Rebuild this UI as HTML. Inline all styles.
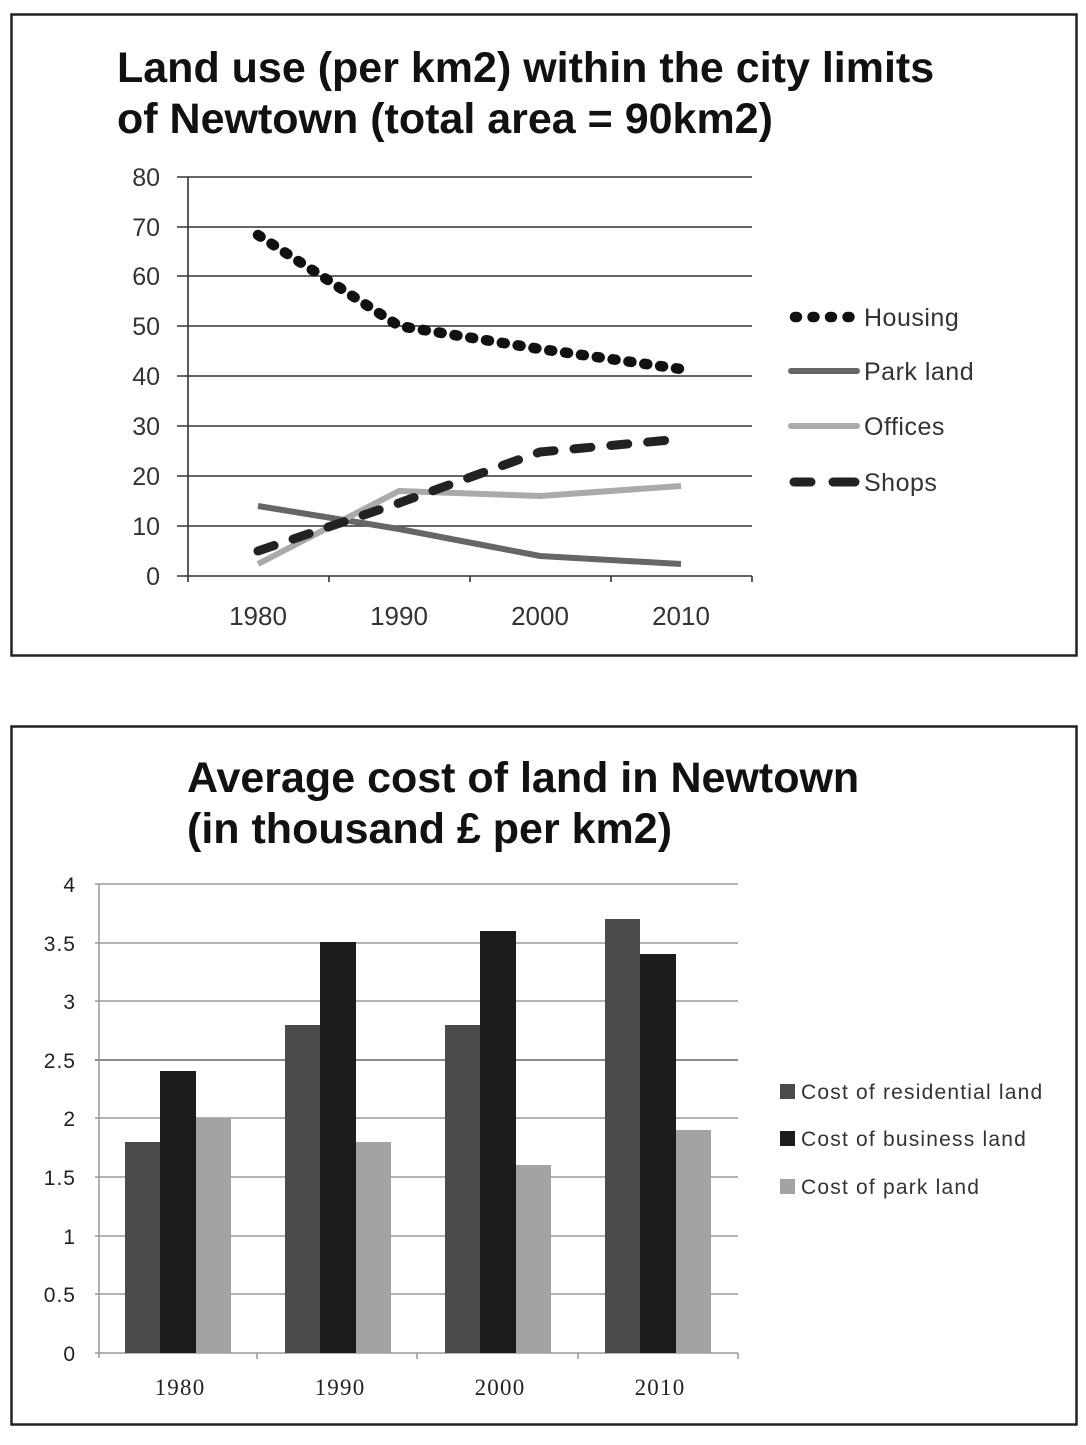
<!DOCTYPE html>
<html>
<head>
<meta charset="utf-8">
<style>
html,body{margin:0;padding:0;background:#fff;}
body{width:1086px;height:1445px;overflow:hidden;}
svg{display:block;}
.t{font-family:"Liberation Sans",Arial,sans-serif;font-weight:bold;font-size:43px;fill:#111;}
.yl{font-family:"Liberation Sans",Arial,sans-serif;font-size:25px;fill:#333;}
.xl{font-family:"Liberation Sans",Arial,sans-serif;font-size:26px;fill:#333;}
.lg{font-family:"Liberation Sans",Arial,sans-serif;font-size:25px;fill:#333;letter-spacing:0.5px;}
.yl2{font-family:"Liberation Sans",Arial,sans-serif;font-size:21px;fill:#222;letter-spacing:1px;}
.xl2{font-family:"Liberation Serif",serif;font-size:23px;fill:#222;letter-spacing:1.2px;}
.lg2{font-family:"Liberation Sans",Arial,sans-serif;font-size:21px;fill:#333;letter-spacing:1.2px;}
</style>
</head>
<body>
<svg width="1086" height="1445" viewBox="0 0 1086 1445" xmlns="http://www.w3.org/2000/svg">
<rect x="0" y="0" width="1086" height="1445" fill="#fff"/>

<!-- ===== TOP CHART ===== -->
<rect x="11.5" y="14.5" width="1065" height="641" fill="#fff" stroke="#222" stroke-width="2.5"/>
<text class="t" x="117" y="82">Land use (per km2) within the city limits</text>
<text class="t" x="117" y="133">of Newtown (total area = 90km2)</text>

<g stroke="#333" stroke-width="1.6">
<line x1="177" y1="177" x2="752" y2="177"/>
<line x1="177" y1="227" x2="752" y2="227"/>
<line x1="177" y1="276" x2="752" y2="276"/>
<line x1="177" y1="326" x2="752" y2="326"/>
<line x1="177" y1="376" x2="752" y2="376"/>
<line x1="177" y1="426" x2="752" y2="426"/>
<line x1="177" y1="476" x2="752" y2="476"/>
<line x1="177" y1="526" x2="752" y2="526"/>
<line x1="177" y1="576" x2="752" y2="576"/>
<line x1="188" y1="177" x2="188" y2="582"/>
<line x1="329" y1="576" x2="329" y2="582"/>
<line x1="470" y1="576" x2="470" y2="582"/>
<line x1="611" y1="576" x2="611" y2="582"/>
<line x1="752" y1="576" x2="752" y2="582"/>
</g>
<g class="yl" text-anchor="end">
<text x="160" y="186">80</text>
<text x="160" y="236">70</text>
<text x="160" y="285">60</text>
<text x="160" y="335">50</text>
<text x="160" y="385">40</text>
<text x="160" y="435">30</text>
<text x="160" y="485">20</text>
<text x="160" y="535">10</text>
<text x="160" y="585">0</text>
</g>
<g class="xl" text-anchor="middle">
<text x="258" y="625">1980</text>
<text x="399" y="625">1990</text>
<text x="540" y="625">2000</text>
<text x="681" y="625">2010</text>
</g>

<polyline points="258,506 399,529 540,556 681,564" fill="none" stroke="#666" stroke-width="6" stroke-linejoin="round"/>
<polyline points="258,564 399,491 540,496 681,486" fill="none" stroke="#aaa" stroke-width="6" stroke-linejoin="round"/>
<polyline points="258,551 399,503 540,452 681,439" fill="none" stroke="#222" stroke-width="9" stroke-dasharray="17 20" stroke-linecap="round" stroke-linejoin="round"/>
<polyline points="258,235 399,326 540,349 681,369" fill="none" stroke="#111" stroke-width="10.5" stroke-dasharray="3 13" stroke-linecap="round" stroke-linejoin="round"/>

<!-- legend -->
<line x1="795" y1="317" x2="856" y2="317" stroke="#111" stroke-width="10.5" stroke-dasharray="2 15.5" stroke-linecap="round"/>
<text class="lg" x="864" y="326">Housing</text>
<line x1="791" y1="371" x2="857" y2="371" stroke="#666" stroke-width="6" stroke-linecap="round"/>
<text class="lg" x="864" y="380">Park land</text>
<line x1="791" y1="426" x2="857" y2="426" stroke="#aaa" stroke-width="6" stroke-linecap="round"/>
<text class="lg" x="864" y="435">Offices</text>
<line x1="794" y1="482" x2="811" y2="482" stroke="#222" stroke-width="9" stroke-linecap="round"/>
<line x1="833" y1="482" x2="855" y2="482" stroke="#222" stroke-width="9" stroke-linecap="round"/>
<text class="lg" x="864" y="491">Shops</text>

<!-- ===== BOTTOM CHART ===== -->
<rect x="11.5" y="726.5" width="1065" height="698" fill="#fff" stroke="#222" stroke-width="2.5"/>
<text class="t" x="187" y="792">Average cost of land in Newtown</text>
<text class="t" x="187" y="843">(in thousand £ per km2)</text>

<g stroke="#999" stroke-width="1.5">
<line x1="95" y1="884" x2="738" y2="884"/>
<line x1="95" y1="943" x2="738" y2="943"/>
<line x1="95" y1="1001" x2="738" y2="1001"/>
<line x1="95" y1="1060" x2="738" y2="1060" stroke="#666"/>
<line x1="95" y1="1118" x2="738" y2="1118"/>
<line x1="95" y1="1177" x2="738" y2="1177"/>
<line x1="95" y1="1236" x2="738" y2="1236"/>
<line x1="95" y1="1294" x2="738" y2="1294"/>
</g>
<g stroke="#999" stroke-width="1.5">
<line x1="99" y1="884" x2="99" y2="1358"/>
<line x1="95" y1="1353" x2="738" y2="1353"/>
<line x1="257" y1="1353" x2="257" y2="1359"/>
<line x1="417" y1="1353" x2="417" y2="1359"/>
<line x1="578" y1="1353" x2="578" y2="1359"/>
<line x1="738" y1="1353" x2="738" y2="1359"/>
</g>

<g>
<rect x="125" y="1142" width="35" height="211" fill="#4a4a4a"/>
<rect x="160" y="1071" width="36" height="282" fill="#1c1c1c"/>
<rect x="196" y="1118" width="35" height="235" fill="#a3a3a3"/>

<rect x="285" y="1025" width="35" height="328" fill="#4a4a4a"/>
<rect x="320" y="942" width="36" height="411" fill="#1c1c1c"/>
<rect x="356" y="1142" width="35" height="211" fill="#a3a3a3"/>

<rect x="445" y="1025" width="35" height="328" fill="#4a4a4a"/>
<rect x="480" y="931" width="36" height="422" fill="#1c1c1c"/>
<rect x="516" y="1165" width="35" height="188" fill="#a3a3a3"/>

<rect x="605" y="919" width="35" height="434" fill="#4a4a4a"/>
<rect x="640" y="954" width="36" height="399" fill="#1c1c1c"/>
<rect x="676" y="1130" width="35" height="223" fill="#a3a3a3"/>
</g>

<g class="yl2" text-anchor="end">
<text x="76" y="892">4</text>
<text x="76" y="951">3.5</text>
<text x="76" y="1009">3</text>
<text x="76" y="1068">2.5</text>
<text x="76" y="1126">2</text>
<text x="76" y="1185">1.5</text>
<text x="76" y="1244">1</text>
<text x="76" y="1302">0.5</text>
<text x="76" y="1361">0</text>
</g>
<g class="xl2" text-anchor="middle">
<text x="180" y="1395">1980</text>
<text x="340" y="1395">1990</text>
<text x="500" y="1395">2000</text>
<text x="660" y="1395">2010</text>
</g>

<rect x="780" y="1084" width="15" height="15" fill="#4a4a4a"/>
<text class="lg2" x="801" y="1099">Cost of residential land</text>
<rect x="780" y="1131" width="15" height="15" fill="#1c1c1c"/>
<text class="lg2" x="801" y="1146">Cost of business land</text>
<rect x="780" y="1179" width="15" height="15" fill="#a3a3a3"/>
<text class="lg2" x="801" y="1194">Cost of park land</text>
</svg>
</body>
</html>
